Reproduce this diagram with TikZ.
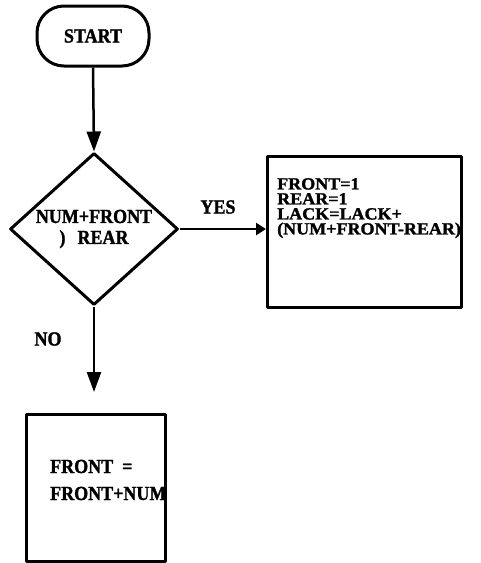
\documentclass[tikz,border=0pt]{standalone}
\usepackage{fontspec}
\setmainfont{Liberation Serif}
\newfontfamily\heavy{Liberation Serif Bold}[FakeStretch=0.9,FakeBold=1.5]
\newfontfamily\heavyw{Liberation Serif Bold}[FakeStretch=1.06,FakeBold=1.5]
\usetikzlibrary{shapes.geometric,arrows.meta}
\begin{document}
\begin{tikzpicture}[x=1pt,y=-1pt,
  lbl/.style={font=\heavy\fontsize{20}{21}\selectfont, inner sep=0pt},
  boxtxt/.style={font=\heavyw\fontsize{17}{15}\selectfont, inner sep=0pt},
  outline/.style={draw, line width=3pt, line join=round},
  flow/.style={line width=2.5pt, -{Triangle[length=20pt,width=14pt]}},
  flowh/.style={line width=2.5pt, -{Triangle[length=10pt,width=12pt]}}
]
\useasboundingbox (0,0) rectangle (480,563);
\node[outline, rounded corners=27pt, minimum width=112pt, minimum height=60pt, lbl] (start) at (93,36) {START};
\node[outline, diamond, aspect=1.1, minimum width=168pt, minimum height=152pt, inner sep=0pt, align=center, lbl] (dec) at (94,229) {NUM+FRONT\\)\hspace{0.6em}REAR};
\node[boxtxt, align=left, anchor=north west] (t1) at (277,178) {FRONT=1\\REAR=1\\LACK=LACK+\\(NUM+FRONT-REAR)};
\node[outline, minimum width=194pt, minimum height=151pt, anchor=north west] (box1) at (266,155) {};
\node[lbl] (yes) at (218,207) {YES};
\node[lbl] (no) at (48,339) {NO};
\node[lbl, anchor=base west] (t2a) at (50,473) {FRONT\hspace{0.45em}=};
\node[lbl, anchor=base west] (t2b) at (50,500) {FRONT+NUM};
\node[outline, minimum width=139pt, minimum height=147pt, anchor=north west] (box2) at (25,413) {};
\coordinate (tip) at (94,392);
\draw[flow] (start.south) -- (dec.north);
\draw[flowh] (dec.east) -- (dec.east -| box1.west);
\draw[flow] (dec.south) -- (tip);
\end{tikzpicture}
\end{document}
